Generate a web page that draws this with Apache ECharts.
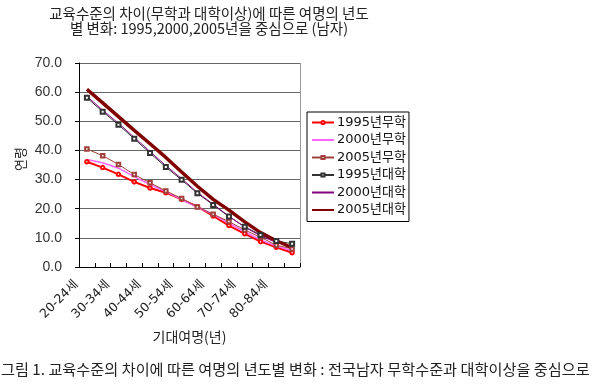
<!DOCTYPE html>
<html>
<head>
<meta charset="utf-8">
<script src="https://cdn.jsdelivr.net/npm/echarts@6/dist/echarts.min.js"></script>
<style>
html,body{margin:0;padding:0;background:#fff;}
#c{width:600px;height:392px;}
</style>
</head>
<body>
<div id="c"></div>
<script>
var categories = ['20-24세','25-29세','30-34세','35-39세','40-44세','45-49세','50-54세','55-59세','60-64세','65-69세','70-74세','75-79세','80-84세','85세이상'];
var yTicks = [0,10,20,30,40,50,60,70];
var s1995mu = [36.1,34.1,31.8,29.2,27.1,25.5,23.2,20.7,17.5,14.2,11.4,8.7,6.8,4.9];
var s2000mu = [36.9,35.8,33.9,31.0,28.3,25.9,23.2,20.5,18.1,15.0,12.1,9.3,7.2,5.6];
var s2005mu = [40.5,38.2,35.2,31.7,28.9,26.1,23.5,20.6,18.1,15.6,12.7,10.2,7.5,6.2];
var s1995dae = [58.1,53.3,48.8,44.0,39.1,34.3,29.9,25.3,21.3,17.3,13.8,11.0,8.9,8.0];
var s2000dae = [58.6,53.8,49.3,44.5,39.6,34.8,30.3,25.6,21.5,17.4,13.7,10.7,8.4,7.0];
var s2005dae = [61.0,56.3,51.6,46.9,42.3,37.6,32.6,27.7,23.2,19.5,15.5,11.8,9.0,6.6];
var seriesNames = ['1995년무학','2000년무학','2005년무학','1995년대학','2000년대학','2005년대학'];
var titleText = '교육수준의 차이(무학과 대학이상)에 따른 여명의 년도\n별 변화: 1995,2000,2005년을 중심으로 (남자)';
var captionText = '그림 1. 교육수준의 차이에 따른 여명의 년도별 변화 : 전국남자 무학수준과 대학이상을 중심으로';

var FONT = '"DejaVu Sans", "Noto Sans CJK KR", sans-serif';
var KFONT = '"Noto Sans CJK KR", "Noto Sans", sans-serif';
var chart = echarts.init(document.getElementById('c'), null, {renderer:'canvas'});
function mk(name, data, color, width, symbol, size) {
  return {
    name: name, type: 'line', data: data, smooth: false,
    symbol: symbol || 'none', symbolSize: size || 4, showSymbol: !!symbol,
    lineStyle: {color: color, width: width},
    itemStyle: {color: color, borderColor: color, borderWidth: 0.8},
    emphasis: {disabled: true}, animation: false, z: 3
  };
}
var noMarker = {1: true, 4: true, 5: true};
var legendData = seriesNames.map(function(n, i){
  return noMarker[i] ? {name: n, itemStyle: {opacity: 0}} : {name: n};
});
chart.setOption({
  animation: false,
  textStyle: {fontFamily: FONT},
  title: {
    text: titleText, left: 209, top: 6, textAlign: 'center', padding: 0,
    textStyle: {fontSize: 14.5, fontWeight: 'normal', color: '#222', lineHeight: 15, fontFamily: KFONT}
  },
  legend: {
    orient: 'vertical', left: 307, top: 112, itemWidth: 22, itemHeight: 4, itemGap: 4.5,
    borderColor: '#000', borderWidth: 1, padding: [4, 3, 5, 4], borderRadius: 0,
    textStyle: {fontSize: 13, color: '#111', fontFamily: FONT, padding: [0,0,0,-2]},
    data: legendData
  },
  grid: {left: 79, right: 300, top: 63, bottom: 125, containLabel: false, show: false},
  xAxis: {
    type: 'category', data: categories, boundaryGap: true,
    axisLine: {lineStyle: {color: '#000', width: 1}},
    axisTick: {show: true, inside: true, length: 4, lineStyle: {color: '#000'}, alignWithLabel: false, interval: 0},
    axisLabel: {interval: 1, rotate: 45, fontSize: 12.5, color: '#222', margin: 5, fontFamily: FONT,
      padding: [0, 15, 0, 0]},
    name: '기대여명(년)', nameLocation: 'middle', nameGap: 63,
    nameTextStyle: {fontSize: 14, color: '#222', fontFamily: KFONT},
    splitLine: {show: false}
  },
  yAxis: {
    type: 'value', min: 0, max: 70, interval: 10,
    axisLine: {show: true, lineStyle: {color: '#000', width: 1}},
    axisTick: {show: true, inside: false, length: 4, lineStyle: {color: '#000'}},
    axisLabel: {fontSize: 14, color: '#333', margin: 17, fontFamily: '"Liberation Sans", Arial, sans-serif',
      formatter: function(v){ return v.toFixed(1); }},
    splitLine: {show: true, lineStyle: {color: '#666', width: 1}},
    name: '연령', nameLocation: 'middle', nameGap: 52, nameRotate: 90,
    nameTextStyle: {fontSize: 13, color: '#222', fontFamily: KFONT, padding: [0, 0, 0, 12]}
  },
  graphic: [
    {type: 'line', shape: {x1: 300.5, y1: 63, x2: 300.5, y2: 267}, style: {stroke: '#999', lineWidth: 1}, silent: true},
    {type: 'text', left: 1, top: 362, style: {text: captionText, fontSize: 15.2, fill: '#222', fontFamily: KFONT}}
  ],
  series: [
    mk(seriesNames[0], s1995mu, '#ff0000', 2, 'emptyCircle', 3.5),
    mk(seriesNames[1], s2000mu, '#ff66ff', 1.5),
    mk(seriesNames[2], s2005mu, '#a0403c', 1, 'emptyRect', 3.5),
    mk(seriesNames[3], s1995dae, '#333333', 1, 'emptyRect', 4),
    mk(seriesNames[4], s2000dae, '#800080', 1),
    mk(seriesNames[5], s2005dae, '#800000', 3.5)
  ]
});
</script>
</body>
</html>
